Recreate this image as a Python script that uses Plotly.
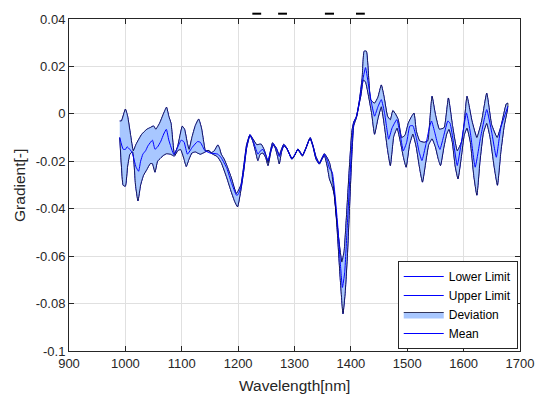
import plotly.graph_objects as go

# ---------------- data ----------------
wl_upper = [990, 993, 1000, 1004, 1009, 1014, 1019, 1029, 1038, 1044, 1050, 1054, 1061, 1067, 1073,
            1077, 1081, 1087, 1093, 1101, 1105, 1110, 1113, 1118, 1124, 1130, 1135, 1139, 1142, 1147,
            1152, 1158, 1164, 1167, 1170, 1175, 1180, 1188, 1197, 1205, 1210, 1215, 1221, 1226, 1233,
            1238, 1241, 1246, 1250, 1253, 1257, 1261, 1265, 1268, 1273, 1276, 1281, 1286, 1290, 1296,
            1301, 1306, 1310, 1314, 1320, 1326, 1328, 1333, 1338, 1344, 1349, 1353, 1358, 1362, 1366,
            1370, 1375, 1380, 1384, 1388, 1393, 1398, 1402, 1405, 1410, 1415, 1420, 1423.5, 1427.5, 1432,
            1435, 1442, 1448, 1454, 1459, 1465, 1470, 1474.5, 1479, 1484, 1490, 1496, 1502, 1508, 1512,
            1516, 1522, 1530, 1536.5, 1540, 1544, 1550, 1557, 1565.5, 1573, 1580, 1588.7, 1597, 1601, 1606,
            1614.8, 1623.5, 1632, 1641, 1649.6, 1659.5, 1667, 1675.7, 1678.6]
upper = [-0.003, -0.003, 0.002, -0.001, -0.0086, -0.0156, -0.0128, -0.0086, -0.0065, -0.0058, -0.0051, -0.0065, -0.0038, -0.0003, 0.0028,
         -0.001, -0.004, -0.0172, -0.0135, -0.0052, -0.0065, -0.0125, -0.015, -0.010, -0.005, -0.0022, -0.006, -0.012, -0.0156, -0.0155,
         -0.0165, -0.0155, -0.0131, -0.0145, -0.017, -0.019, -0.0218, -0.027, -0.0336, -0.030, -0.022, -0.013, -0.0088, -0.0105, -0.013,
         -0.0128, -0.0128, -0.015, -0.018, -0.0205, -0.016, -0.0122, -0.0135, -0.0145, -0.0175, -0.0155, -0.0128, -0.0143, -0.0163, -0.019,
         -0.0172, -0.0148, -0.016, -0.0175, -0.0145, -0.0108, -0.010, -0.0135, -0.018, -0.0208, -0.0185, -0.0168, -0.0185, -0.0205, -0.025,
         -0.033, -0.045, -0.056, -0.0625, -0.058, -0.040, -0.020, -0.007, -0.0035, -0.001, 0.0055, 0.015, 0.0264, 0.0264, 0.0136,
         0.006, 0.0045, 0.007, 0.0122, 0.007, -0.001, -0.0025, 0.0014, 0.000, -0.0024, -0.010, -0.009, -0.0038, -0.001, 0.0003,
         -0.0072, -0.0114, -0.012, -0.0114, -0.003, 0.0074, -0.0003, -0.0065, -0.0058, 0.0067, -0.0045, -0.0156, -0.0114, -0.004, 0.0074,
         -0.003, -0.010, -0.003, 0.0087, -0.0045, -0.010, -0.0045, 0.0042, 0.0045]

wl_lower = [990, 993, 996, 1000, 1004, 1008, 1013, 1018, 1022.3, 1027, 1032, 1038, 1044, 1048, 1052.5,
            1057, 1063, 1067, 1073, 1080, 1087, 1093, 1098, 1104, 1108, 1113, 1118, 1124, 1128, 1133,
            1138, 1142, 1148, 1155, 1163, 1170, 1180, 1188, 1194, 1199, 1205, 1210, 1215, 1221, 1226,
            1231, 1235, 1239, 1244, 1249, 1253, 1258, 1262, 1266, 1270, 1273, 1277, 1281, 1286, 1290,
            1295, 1300, 1306, 1310, 1314, 1320, 1326, 1328, 1333, 1338, 1344, 1349, 1353, 1358, 1362,
            1366, 1371, 1376, 1381, 1386, 1390, 1394, 1398, 1402, 1405, 1410, 1415, 1418, 1422, 1426,
            1432, 1437, 1442, 1448, 1454, 1460, 1465, 1470, 1476, 1482, 1488, 1493, 1498, 1504, 1510,
            1516, 1522, 1527, 1533, 1538, 1544, 1550, 1555, 1559, 1565, 1570, 1574, 1580, 1585, 1590,
            1596, 1601, 1606, 1612, 1618, 1623.5, 1629, 1635, 1641, 1647, 1654, 1660, 1666, 1672, 1678]
lower = [-0.010, -0.022, -0.0301, -0.0305, -0.022, -0.017, -0.0160, -0.030, -0.0367, -0.030, -0.026, -0.0235, -0.021, -0.021, -0.0246,
         -0.020, -0.0185, -0.0176, -0.0168, -0.017, -0.0178, -0.0155, -0.015, -0.019, -0.0222, -0.019, -0.0165, -0.016, -0.0165, -0.017,
         -0.0165, -0.016, -0.0155, -0.017, -0.018, -0.0205, -0.027, -0.033, -0.037, -0.0392, -0.032, -0.024, -0.0145, -0.009, -0.0115,
         -0.016, -0.0197, -0.017, -0.0165, -0.0185, -0.0218, -0.016, -0.013, -0.0145, -0.018, -0.0211, -0.016, -0.0135, -0.0145, -0.0165,
         -0.019, -0.0175, -0.015, -0.0165, -0.0178, -0.0148, -0.011, -0.0105, -0.014, -0.019, -0.0212, -0.019, -0.0175, -0.022, -0.0274,
         -0.030, -0.0343, -0.050, -0.069, -0.0843, -0.075, -0.059, -0.037, -0.016, -0.005, -0.0015, 0.0045, 0.008, 0.0143, 0.0135,
         0.0067, 0.000, -0.0086, -0.002, 0.003, -0.006, -0.015, -0.0218, -0.0095, -0.006, -0.012, -0.018, -0.0225, -0.013, -0.0085,
         -0.014, -0.023, -0.0288, -0.020, -0.013, -0.0105, -0.014, -0.019, -0.0218, -0.014, -0.0085, -0.0065, -0.012, -0.022, -0.0274,
         -0.018, -0.009, -0.006, -0.012, -0.026, -0.0343, -0.020, -0.008, -0.004, -0.010, -0.022, -0.0301, -0.016, -0.005, 0.002]

wl_mean = [990, 996, 1000, 1003, 1008, 1012, 1019, 1023.5, 1027, 1031, 1036, 1040, 1048, 1052.5, 1057,
           1063, 1068, 1072.7, 1077, 1086, 1092, 1099, 1104, 1110, 1119, 1128, 1133, 1141, 1150, 1164,
           1170, 1180, 1188, 1197, 1200, 1205, 1210, 1215, 1221, 1226, 1231, 1235, 1240, 1244, 1249,
           1253, 1258, 1262, 1266, 1270, 1273, 1277, 1281, 1286, 1290, 1295, 1300, 1306, 1310, 1314,
           1320, 1326, 1328, 1333, 1338, 1344, 1349, 1353, 1358, 1362, 1367, 1372.5, 1377, 1381, 1385,
           1389, 1393, 1398, 1402, 1405, 1410, 1415, 1420, 1426, 1432, 1437, 1442, 1448, 1454, 1460,
           1467, 1473, 1481.5, 1487, 1493, 1499, 1504.6, 1510, 1516, 1521, 1526, 1533, 1539, 1543, 1549,
           1554, 1558, 1565, 1572, 1576, 1582, 1588.7, 1596, 1605, 1612, 1620.5, 1630, 1641, 1650, 1658,
           1666, 1678.6]
mean = [-0.010, -0.0149, -0.015, -0.0139, -0.015, -0.0163, -0.0225, -0.0242, -0.020, -0.017, -0.0155, -0.0135, -0.0111, -0.0149, -0.014,
        -0.0115, -0.0085, -0.0065, -0.011, -0.0172, -0.0145, -0.0111, -0.0118, -0.017, -0.014, -0.0117, -0.012, -0.0155, -0.0165, -0.017,
        -0.0185, -0.023, -0.029, -0.0343, -0.034, -0.031, -0.023, -0.014, -0.0088, -0.011, -0.0145, -0.017, -0.0155, -0.015, -0.0175,
        -0.0197, -0.0155, -0.0125, -0.0138, -0.016, -0.018, -0.0155, -0.013, -0.0144, -0.0164, -0.019, -0.0174, -0.0149, -0.0162, -0.0176,
        -0.0146, -0.0109, -0.0102, -0.0137, -0.0185, -0.021, -0.0187, -0.017, -0.0195, -0.023, -0.0246, -0.0357, -0.048, -0.062, -0.0732,
        -0.067, -0.050, -0.028, -0.012, -0.004, -0.001, 0.005, 0.013, 0.0195, 0.011, 0.004, -0.001, 0.003, 0.006, 0.000,
        -0.0107, -0.006, -0.0024, -0.008, -0.0156, -0.012, -0.0051, -0.005, -0.010, -0.016, -0.0197, -0.013, -0.006, -0.003, -0.008,
        -0.0128, -0.015, -0.009, -0.003, -0.004, -0.012, -0.0218, -0.012, 0.0004, -0.008, -0.0225, -0.010, 0.0018, -0.008, -0.0183,
        -0.0058, 0.0032]

x_ticks = [900, 1000, 1100, 1200, 1300, 1400, 1500, 1600, 1700]
y_ticks = [-0.1, -0.08, -0.06, -0.04, -0.02, 0, 0.02, 0.04]
y_ticklabels = ["-0.1", "-0.08", "-0.06", "-0.04", "-0.02", "0", "0.02", "0.04"]

# ---------------- styles ----------------
BLUE = "rgb(0,0,255)"
FILL = "rgb(168,199,255)"
AXC = "#262626"
GRID = "#e0e0e0"
FONT = "Liberation Sans, Arial, sans-serif"
SHAPE = dict(shape="spline", smoothing=0.4)

fig = go.Figure()
fig.add_trace(go.Scatter(x=wl_lower, y=lower, mode="lines", name="Lower Limit",
                         line=dict(color=BLUE, width=1, **SHAPE)))
fig.add_trace(go.Scatter(x=wl_upper, y=upper, mode="lines", name="Upper Limit",
                         line=dict(color=BLUE, width=1, **SHAPE)))
fig.add_trace(go.Scatter(x=wl_upper + wl_lower[::-1], y=upper + lower[::-1], mode="lines",
                         name="Deviation", fill="toself", fillcolor=FILL,
                         line=dict(color="rgba(0,0,40,0.85)", width=0.9, **SHAPE)))
fig.add_trace(go.Scatter(x=wl_mean, y=mean, mode="lines", name="Mean",
                         line=dict(color=BLUE, width=1, **SHAPE)))

axis_common = dict(showline=True, linecolor=AXC, linewidth=1, mirror="ticks",
                   ticks="inside", ticklen=5, tickcolor=AXC, showgrid=True, gridcolor=GRID,
                   gridwidth=1, zeroline=False, tickfont=dict(family=FONT, size=13, color=AXC))

fig.update_xaxes(range=[900, 1700], tickvals=x_ticks, **axis_common)
fig.update_yaxes(range=[-0.1, 0.04], tickvals=y_ticks, ticktext=y_ticklabels, **axis_common)

# axis titles
fig.add_annotation(text="Wavelength[nm]", xref="paper", yref="paper", x=0.5, y=-0.104,
                   xanchor="center", yanchor="middle", showarrow=False,
                   font=dict(family=FONT, size=15.5, color=AXC))
fig.add_annotation(text="Gradient[-]", xref="paper", yref="paper", x=-0.111, y=0.5,
                   xanchor="center", yanchor="middle", textangle=-90, showarrow=False,
                   font=dict(family=FONT, size=15.5, color=AXC))

# small dash marks above the axes (title remnants in the reference)
dash_x = [(0.4065, 0.4261), (0.4637, 0.4833), (0.5674, 0.5876), (0.6363, 0.6559)]
for x0, x1 in dash_x:
    fig.add_shape(type="line", xref="paper", yref="paper", x0=x0, x1=x1, y0=1.016, y1=1.016,
                  line=dict(color="black", width=2))

fig.update_layout(
    width=546, height=399,
    margin=dict(l=69, r=17, t=15, b=48),
    paper_bgcolor="white", plot_bgcolor="white",
    font=dict(family=FONT, color=AXC),
    showlegend=True,
    legend=dict(x=0.995, y=0.006, xanchor="right", yanchor="bottom",
                bgcolor="white", bordercolor=AXC, borderwidth=1,
                font=dict(family=FONT, size=12, color="black"),
                itemwidth=40, tracegroupgap=0),
)

fig.write_html("out.html")
